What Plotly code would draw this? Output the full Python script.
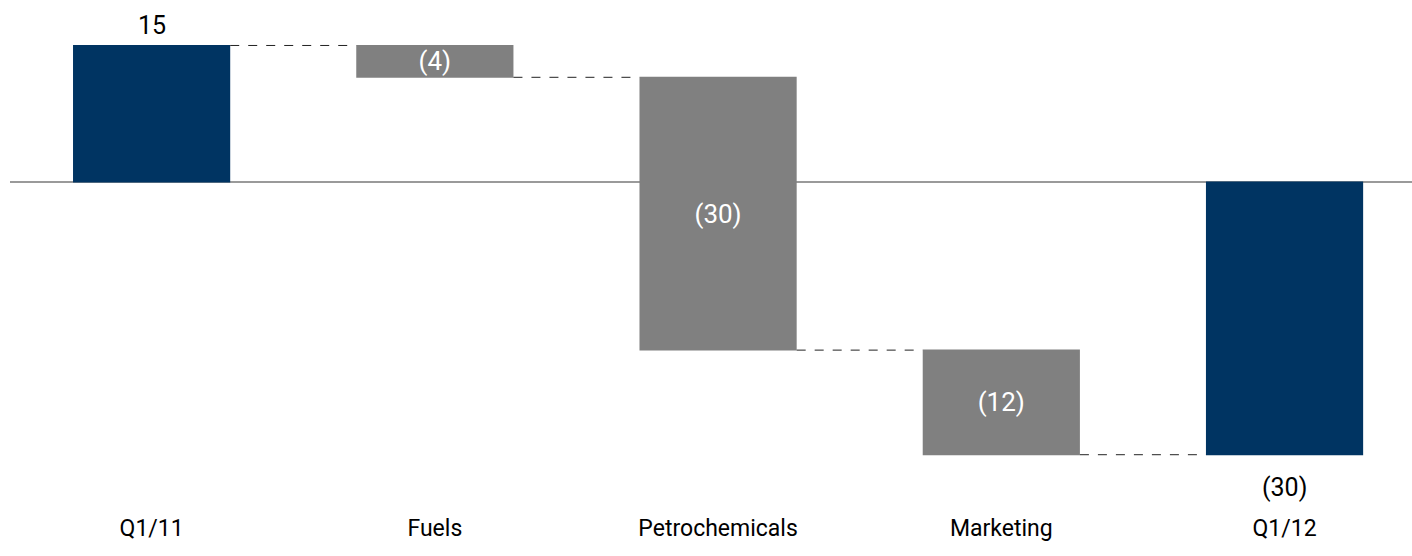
import plotly.graph_objects as go

# Quarter-over-quarter bridge by segment
categories = ["Q1/11", "Fuels", "Petrochemicals", "Marketing", "Q1/12"]
measures = ["absolute", "relative", "relative", "relative", "total"]
values = [15.0, -3.5, -30.0, -11.5, 0]

NAVY = "#003462"
GRAY = "#808080"
LABEL_FONT = "Roboto, sans-serif"
VALUE_FONT = "Roboto, sans-serif"


def fmt(v):
    return f"({abs(v):.0f})" if v < 0 else f"{v:.0f}"


# running level for each step, used for labels
running = 0.0
levels = []
labels = []
for m, v in zip(measures, values):
    if m == "absolute":
        running = v
        labels.append(fmt(v))
    elif m == "relative":
        running += v
        labels.append(fmt(v))
    else:
        labels.append(fmt(running))
    levels.append(running)

# segment steps carry their label inside the bar; totals get a label outside
inside_text = [t if m == "relative" else "" for m, t in zip(measures, labels)]

fig = go.Figure(
    go.Waterfall(
        x=categories,
        y=values,
        measure=measures,
        text=inside_text,
        textposition="inside",
        insidetextanchor="middle",
        constraintext="none",
        insidetextfont=dict(family=VALUE_FONT, size=26, color="white"),
        width=0.555,
        increasing=dict(marker=dict(color=GRAY)),
        decreasing=dict(marker=dict(color=GRAY)),
        totals=dict(marker=dict(color=NAVY)),
        connector=dict(mode="between", line=dict(color="#222222", width=1, dash="dash")),
        hoverinfo="x+y",
    )
)

for cat, m, lvl, t in zip(categories, measures, levels, labels):
    if m == "relative":
        continue
    above = lvl >= 0
    fig.add_annotation(
        x=cat,
        y=lvl,
        text=t,
        showarrow=False,
        yanchor="bottom" if above else "top",
        yshift=3 if above else -16,
        font=dict(family=VALUE_FONT, size=25, color="black"),
    )

fig.update_layout(
    width=1412,
    height=556,
    margin=dict(l=10, r=0, t=0, b=44),
    paper_bgcolor="white",
    plot_bgcolor="white",
    showlegend=False,
    xaxis=dict(
        type="category",
        range=[-0.5, 4.45],
        showgrid=False,
        showline=False,
        ticks="",
        tickfont=dict(family=LABEL_FONT, size=23, color="black"),
    ),
    yaxis=dict(
        range=[-36.3, 20.0],
        showgrid=False,
        showticklabels=False,
        zeroline=True,
        zerolinecolor="#9a9a9a",
        zerolinewidth=2,
    ),
)

fig.write_html("out.html")
